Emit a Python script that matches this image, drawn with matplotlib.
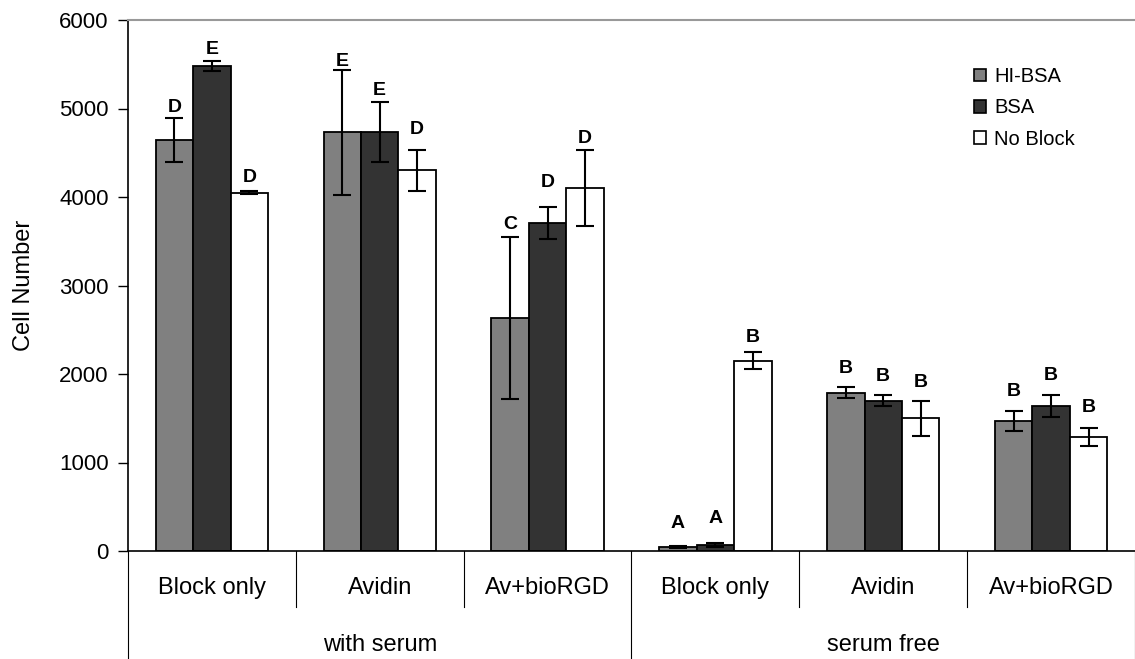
import matplotlib.pyplot as plt
import matplotlib.transforms as mtransforms
from matplotlib.patches import Patch
import numpy as np

plt.rcParams['font.family'] = ['Liberation Sans', 'DejaVu Sans']

categories = ['Block only', 'Avidin', 'Av+bioRGD', 'Block only', 'Avidin', 'Av+bioRGD']
groups = ['with serum', 'serum free']
series = ['HI-BSA', 'BSA', 'No Block']
colors = ['#808080', '#333333', '#ffffff']

hi_bsa = [4640, 4730, 2630, 45, 1790, 1470]
hi_bsa_err = [250, 710, 915, 8, 60, 112]
bsa = [5480, 4730, 3710, 68, 1700, 1635]
bsa_err = [55, 340, 180, 25, 67, 125]
no_block = [4050, 4300, 4100, 2150, 1500, 1290]
no_block_err = [15, 235, 430, 95, 195, 103]

letters_hi = ['D', 'E', 'C', 'A', 'B', 'B']
letters_bsa = ['E', 'E', 'D', 'A', 'B', 'B']
letters_nb = ['D', 'D', 'D', 'B', 'B', 'B']

# gap (px) between error bar top and letter, as placed in the original
gap_hi = [6, 4, 8.5, 18, 14, 14.5]
gap_bsa = [7, 7, 20, 20, 14, 15.5]
gap_nb = [9, 16, 7, 10, 14, 16]

fig = plt.figure(figsize=(11.35, 6.59), dpi=100)
ax = fig.add_axes([128/1135, 1-551/659, 1-128/1135, 531/659])

x = np.arange(len(categories))
w = 0.223
vals = [hi_bsa, bsa, no_block]
errs = [hi_bsa_err, bsa_err, no_block_err]
lets = [letters_hi, letters_bsa, letters_nb]
gaps = [gap_hi, gap_bsa, gap_nb]
for i in range(3):
    xs = x + (i - 1) * w
    ax.bar(xs, vals[i], w, color=colors[i], edgecolor='black', linewidth=1.3,
           label=series[i], zorder=2)
    ax.errorbar(xs, vals[i], yerr=errs[i], fmt='none', ecolor='black',
                elinewidth=1.5, capsize=6.5, capthick=1.5, zorder=3)
    for xi, v, e, t, g in zip(xs, vals[i], errs[i], lets[i], gaps[i]):
        ax.annotate(t, (xi, v + e), xytext=(0, g * 0.72), textcoords='offset points',
                    ha='center', va='baseline', fontsize=14, fontweight='bold')

ax.set_xlim(-0.5, 5.5)
ax.set_ylim(0, 6000)
ax.set_yticks(range(0, 6001, 1000))
ax.tick_params(axis='y', labelsize=16, length=7, width=1, direction='out', pad=7)
ax.set_xticks([])
ax.spines['top'].set_color('#999999')
ax.spines['top'].set_linewidth(1.5)
ax.spines['right'].set_visible(False)
ax.spines['left'].set_linewidth(1.2)
ax.spines['bottom'].set_linewidth(1.2)

# category / group labels under axis
trans = mtransforms.blended_transform_factory(ax.transData, ax.transAxes)
for xi, c in zip(x, categories):
    ax.text(xi, -0.07, c, transform=trans, ha='center', va='center', fontsize=17)
for gi, g in enumerate(groups):
    ax.text(1 + gi * 3, -0.177, g, transform=trans, ha='center', va='center', fontsize=17)
for xd in [0.5, 1.5, 3.5, 4.5]:
    ax.plot([xd, xd], [0, -0.1055], transform=trans, color='black', lw=0.8, clip_on=False)
for xd in [-0.5, 2.5, 5.5]:
    ax.plot([xd, xd], [0, -0.21], transform=trans, color='black', lw=0.8, clip_on=False)

fig.text(24/1135, 1-285/659, 'Cell Number', rotation=90, ha='center', va='center', fontsize=17)

handles = [Patch(facecolor=c, edgecolor='black', linewidth=1.2) for c in colors]
ax.legend(handles, series, loc='upper left', bbox_to_anchor=(974/1135, 1-67/659),
          bbox_transform=fig.transFigure, frameon=False, fontsize=14.5,
          handlelength=0.6, handleheight=0.6, handletextpad=0.4,
          labelspacing=0.62, borderpad=0, borderaxespad=0)

fig.savefig('out.png', dpi=100)
